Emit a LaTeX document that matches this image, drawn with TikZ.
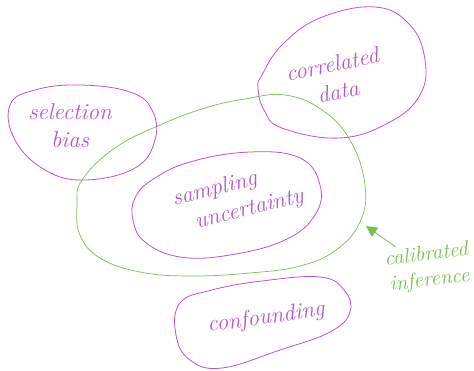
\documentclass[tikz,border=0pt]{standalone}
\usepackage{tikz}
\usetikzlibrary{arrows.meta}
\definecolor{lilac}{RGB}{180,85,205}
\definecolor{leaf}{RGB}{120,190,80}
\tikzset{blob/.style={lilac, line width=.8pt},
 lab/.style={text=lilac, font=\itshape\fontsize{23}{28}\selectfont, align=center, inner sep=0pt},
 glab/.style={text=leaf, font=\itshape\fontsize{21}{26}\selectfont, align=center, inner sep=0pt}}

\begin{document}
\begin{tikzpicture}[x=1pt,y=-1pt]
\useasboundingbox (0,0) rectangle (474,371);
% calibrated region
\draw[leaf, line width=.7pt] plot[smooth cycle, tension=.7] coordinates {(82,180) (115,148) (160,125) (205,108) (245,99) (285,95) (322,110) (350,140) (365,185) (360,222) (336,250) (300,266) (250,273) (190,276) (140,272) (100,258) (80,235) (77,205)};
% the four issues
\draw[blob] plot[smooth cycle, tension=.7] coordinates {(10,105) (35,90) (80,85) (130,92) (152,110) (155,140) (135,168) (85,180) (45,170) (15,140)};
\draw[blob] plot[smooth cycle, tension=.7] coordinates {(262,75) (282,45) (320,18) (375,7) (410,25) (425,60) (420,95) (390,122) (340,138) (282,128) (264,110) (258,88)};
\draw[blob] plot[smooth cycle, tension=.7] coordinates {(135,198) (152,180) (190,162) (250,152) (300,158) (320,185) (315,215) (285,240) (230,255) (180,257) (145,242) (133,220)};
\draw[blob] plot[smooth cycle, tension=.7] coordinates {(180,303) (212,290) (262,281) (320,277) (344,290) (350,312) (330,332) (280,350) (222,368) (190,360) (176,335)};
\node[lab] (sel) at (70,126) {selection\\bias};
\node[lab, rotate=12] (corr) at (335,78) {correlated\\data};
\node[lab, rotate=14] (samp) at (218,203) {sampling\\\hspace*{2.5em}uncertainty};
\node[lab, rotate=8] (conf) at (266,318) {confounding};
\node[glab, rotate=7] (cal) at (428,268) {calibrated\\inference};
\coordinate (tip) at (366,226);
\draw[leaf, line width=.8pt, -{Triangle[length=11pt,width=11pt]}] (cal.north west) ++(12,-4) coordinate (tail) (tail) -- (tip);
\end{tikzpicture}
\end{document}
